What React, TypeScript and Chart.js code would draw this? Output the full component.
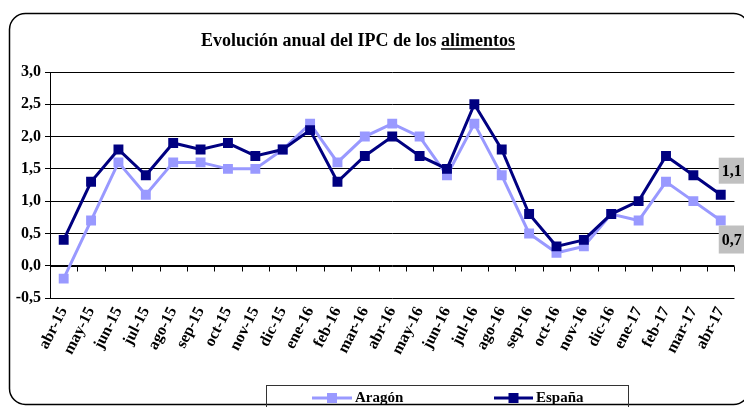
import React, { useEffect, useRef } from "react";
import { Chart, registerables } from "chart.js";

Chart.register(...registerables);

const months = [
  "abr-15", "may-15", "jun-15", "jul-15", "ago-15", "sep-15", "oct-15", "nov-15", "dic-15",
  "ene-16", "feb-16", "mar-16", "abr-16", "may-16", "jun-16", "jul-16", "ago-16", "sep-16",
  "oct-16", "nov-16", "dic-16", "ene-17", "feb-17", "mar-17", "abr-17",
];
const aragon = [-0.2, 0.7, 1.6, 1.1, 1.6, 1.6, 1.5, 1.5, 1.8, 2.2, 1.6, 2.0, 2.2, 2.0, 1.4, 2.2, 1.4, 0.5, 0.2, 0.3, 0.8, 0.7, 1.3, 1.0, 0.7];
const espana = [0.4, 1.3, 1.8, 1.4, 1.9, 1.8, 1.9, 1.7, 1.8, 2.1, 1.3, 1.7, 2.0, 1.7, 1.5, 2.5, 1.8, 0.8, 0.3, 0.4, 0.8, 1.0, 1.7, 1.4, 1.1];
const seriesNames = ["Aragón", "España"];
const seriesColors = ["#9999FF", "#000080"];
const yMin = -0.5;
const yMax = 3.0;
const yStep = 0.5;
const titleMain = "Evolución anual del IPC de los ";
const titleUnderlined = "alimentos";

const FONT = '"Liberation Serif", "Times New Roman", serif';
const fmt = (v: number) => v.toFixed(1).replace(".", ",");

const decor = {
  id: "decor",
  beforeDraw(chart: any) {
    const ctx = chart.ctx;
    ctx.save();
    ctx.fillStyle = "#ffffff";
    ctx.fillRect(0, 0, chart.width, chart.height);
    ctx.restore();
  },
  beforeDatasetsDraw(chart: any) {
    const ctx = chart.ctx;
    const y = chart.scales.y;
    const y0 = Math.round(y.getPixelForValue(0)) + 0.5;
    ctx.save();
    ctx.strokeStyle = "#000";
    ctx.lineWidth = 1;
    ctx.beginPath();
    ctx.moveTo(chart.chartArea.left, y0);
    ctx.lineTo(chart.chartArea.right, y0);
    const n = months.length;
    const w = (chart.chartArea.right - chart.chartArea.left) / n;
    for (let i = 1; i <= n; i++) {
      const px = Math.round(chart.chartArea.left + i * w) + 0.5;
      ctx.moveTo(px, y0);
      ctx.lineTo(px, y0 + 5);
    }
    ctx.stroke();
    ctx.restore();
  },
  afterDraw(chart: any) {
    const ctx = chart.ctx;
    const x = chart.scales.x;
    const y = chart.scales.y;
    ctx.save();
    // outer rounded border
    ctx.strokeStyle = "#000";
    ctx.lineWidth = 1.5;
    ctx.beginPath();
    (ctx as any).roundRect(9.5, 13.5, 740, 391, 16);
    ctx.stroke();

    // title
    ctx.font = `bold 18px ${FONT}`;
    ctx.fillStyle = "#000";
    ctx.textBaseline = "alphabetic";
    const w1 = ctx.measureText(titleMain).width;
    const w2 = ctx.measureText(titleUnderlined).width;
    const tx = 358 - (w1 + w2) / 2;
    ctx.textAlign = "left";
    ctx.fillText(titleMain, tx, 46);
    ctx.fillText(titleUnderlined, tx + w1, 46);
    ctx.lineWidth = 1.5;
    ctx.beginPath();
    ctx.moveTo(tx + w1, 49);
    ctx.lineTo(tx + w1 + w2, 49);
    ctx.stroke();

    // end labels
    const last = months.length - 1;
    const lx = x.getPixelForValue(last);
    ctx.font = `bold 16px ${FONT}`;
    ctx.textBaseline = "middle";
    const ey = y.getPixelForValue(espana[last]);
    ctx.fillStyle = "#C0C0C0";
    ctx.fillRect(lx - 2, ey - 37, 30, 26);
    ctx.fillStyle = "#000";
    ctx.fillText(fmt(espana[last]), lx + 1, ey - 23);
    const ay = y.getPixelForValue(aragon[last]);
    ctx.fillStyle = "#C0C0C0";
    ctx.fillRect(lx - 2, ay + 5, 30, 28);
    ctx.fillStyle = "#000";
    ctx.fillText(fmt(aragon[last]), lx + 1, ay + 20);

    // legend
    ctx.strokeStyle = "#333";
    ctx.lineWidth = 1;
    ctx.strokeRect(266.5, 385.5, 362, 40);
    const items = [
      { x0: 312, x1: 352, tx: 355 },
      { x0: 494, x1: 533, tx: 536 },
    ];
    const ly = 398;
    items.forEach((it, i) => {
      ctx.strokeStyle = seriesColors[i];
      ctx.lineWidth = 3;
      ctx.beginPath();
      ctx.moveTo(it.x0, ly);
      ctx.lineTo(it.x1, ly);
      ctx.stroke();
      ctx.fillStyle = seriesColors[i];
      const cx = (it.x0 + it.x1) / 2;
      ctx.fillRect(cx - 5, ly - 5, 10, 10);
      ctx.fillStyle = "#000";
      ctx.font = `bold 15px ${FONT}`;
      ctx.textAlign = "left";
      ctx.textBaseline = "middle";
      ctx.fillText(seriesNames[i], it.tx, ly);
    });
    ctx.restore();
  },
};

export default function App() {
  const ref = useRef<HTMLCanvasElement | null>(null);
  useEffect(() => {
    if (!ref.current) return;
    const chart = new Chart(ref.current, {
      type: "line",
      data: {
        labels: months,
        datasets: [
          {
            label: seriesNames[0],
            data: aragon,
            borderColor: seriesColors[0],
            backgroundColor: seriesColors[0],
            borderWidth: 3,
            pointStyle: "rect",
            pointRadius: 7,
            pointBorderWidth: 0,
            tension: 0,
            order: 1,
          },
          {
            label: seriesNames[1],
            data: espana,
            borderColor: seriesColors[1],
            backgroundColor: seriesColors[1],
            borderWidth: 3,
            pointStyle: "rect",
            pointRadius: 7,
            pointBorderWidth: 0,
            tension: 0,
            order: 0,
          },
        ],
      },
      options: {
        responsive: false,
        animation: false,
        layout: { padding: { top: 72, right: 6.5, left: 0, bottom: 0 } },
        plugins: {
          legend: { display: false },
          title: { display: false },
          tooltip: { enabled: false },
        },
        scales: {
          x: {
            offset: true,
            grid: { display: false, drawTicks: false },
            border: { display: false },
            ticks: {
              autoSkip: false,
              minRotation: 63,
              maxRotation: 63,
              padding: 6,
              color: "#000",
              font: { family: FONT, size: 16, weight: "bold" },
            },
            afterFit(scale: any) {
              scale.height = 109;
            },
          },
          y: {
            min: yMin,
            max: yMax,
            grid: { color: "#000", lineWidth: 1, tickLength: 5, drawTicks: true },
            border: { display: true, color: "#000", width: 1 },
            ticks: {
              stepSize: yStep,
              padding: 4,
              color: "#000",
              font: { family: FONT, size: 16, weight: "bold" },
              callback: (v: any) => fmt(Number(v)),
            },
            afterFit(scale: any) {
              scale.width = 50;
            },
          },
        },
      },
      plugins: [decor],
    });
    return () => chart.destroy();
  }, []);
  return (
    <canvas
      ref={ref}
      width={744}
      height={407}
      style={{ position: "fixed", left: 0, top: 0, width: 744, height: 407 }}
    />
  );
}
